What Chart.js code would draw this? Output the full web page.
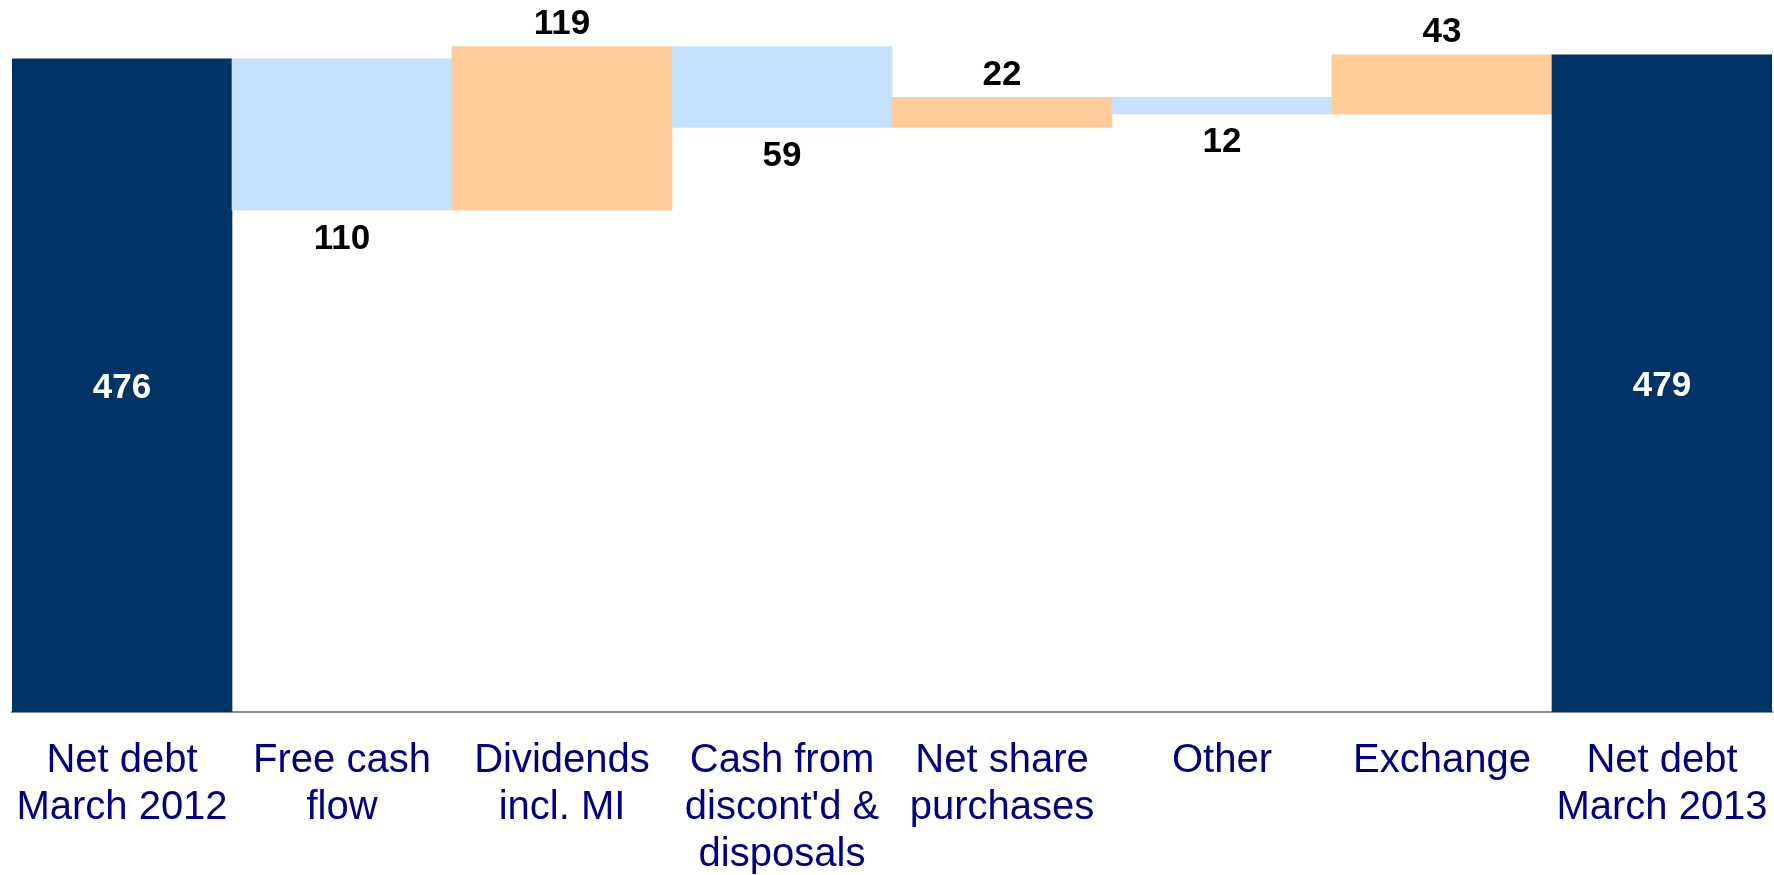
<!DOCTYPE html>
<html>
<head>
<meta charset="utf-8">
<title>Net debt bridge</title>
<script src="https://cdn.jsdelivr.net/npm/chart.js@4"></script>
<style>
    body { margin: 0; background: #ffffff; }
    canvas { display: block; }
</style>
</head>
<body>
<canvas id="bridgeChart" width="1774" height="875"></canvas>
<script>
const categories = [
    ['Net debt', 'March 2012'],
    ['Free cash', 'flow'],
    ['Dividends', 'incl. MI'],
    ['Cash from', "discont'd &", 'disposals'],
    ['Net share', 'purchases'],
    ['Other'],
    ['Exchange'],
    ['Net debt', 'March 2013']
];
const amounts = [476, 110, 119, 59, 22, 12, 43, 479];
const kinds = ['total', 'down', 'up', 'down', 'up', 'down', 'up', 'total'];
const yTicks = [0, 500];

const colors = { total: '#003366', up: '#ffcb99', down: '#c4e0fc' };

// build floating ranges from the running total
let running = 0;
const ranges = amounts.map((v, i) => {
    if (kinds[i] === 'total') { running = v; return [0, v]; }
    const start = running;
    running = kinds[i] === 'up' ? running + v : running - v;
    return [start, running];
});

const valueLabels = {
    id: 'valueLabels',
    afterDatasetsDraw(chart) {
        const ctx = chart.ctx;
        const y = chart.scales.y;
        const meta = chart.getDatasetMeta(0);
        ctx.save();
        ctx.font = 'bold 35px "Liberation Sans", Arial, sans-serif';
        ctx.textAlign = 'center';
        ctx.textBaseline = 'middle';
        meta.data.forEach((bar, i) => {
            const [lo, hi] = ranges[i];
            let py;
            if (kinds[i] === 'total') {
                ctx.fillStyle = '#ffffff';
                py = (y.getPixelForValue(lo) + y.getPixelForValue(hi)) / 2 + 3;
            } else if (kinds[i] === 'up') {
                ctx.fillStyle = '#000000';
                py = y.getPixelForValue(Math.max(lo, hi)) - 22;
            } else {
                ctx.fillStyle = '#000000';
                py = y.getPixelForValue(Math.min(lo, hi)) + 29;
            }
            ctx.fillText(String(amounts[i]), bar.x, py);
        });
        ctx.restore();
    }
};

const ctx = document.getElementById('bridgeChart').getContext('2d');
new Chart(ctx, {
    type: 'bar',
    data: {
        labels: categories,
        datasets: [{
            data: ranges,
            backgroundColor: kinds.map(k => colors[k]),
            borderWidth: 0,
            barPercentage: 1,
            categoryPercentage: 1
        }]
    },
    options: {
        responsive: false,
        animation: false,
        layout: { padding: { left: 12, right: 2, top: 26, bottom: 0 } },
        plugins: {
            legend: { display: false },
            tooltip: { enabled: false }
        },
        scales: {
            x: {
                grid: { display: false, drawTicks: false },
                border: { display: true, color: '#8c8c8c', width: 2 },
                afterFit: scale => {
                    scale.height = 163;
                    scale.paddingLeft = 0;
                    scale.paddingRight = 0;
                },
                ticks: {
                    color: '#000080',
                    padding: 25,
                    maxRotation: 0,
                    autoSkip: false,
                    font: { family: '"Liberation Sans", Arial, sans-serif', size: 40, lineHeight: 1.175 }
                }
            },
            y: {
                display: false,
                min: yTicks[0],
                max: yTicks[1]
            }
        }
    },
    plugins: [valueLabels]
});
</script>
</body>
</html>
